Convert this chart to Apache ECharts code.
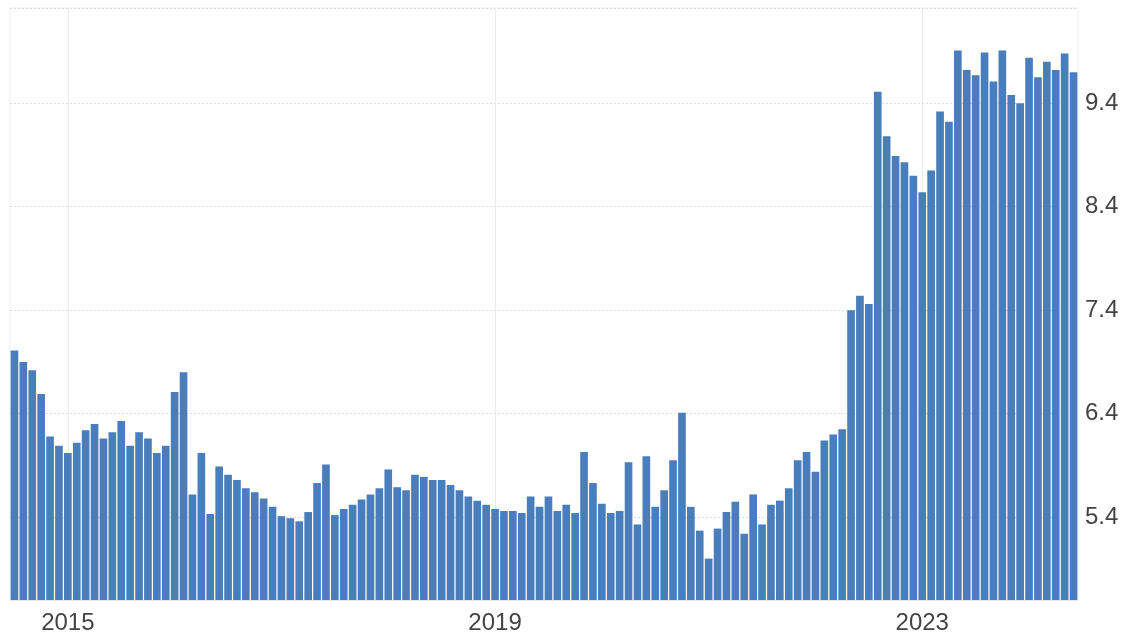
<!DOCTYPE html>
<html>
<head>
<meta charset="utf-8">
<script src="https://cdn.jsdelivr.net/npm/echarts@6/dist/echarts.min.js"></script>
<style>
html,body{margin:0;padding:0;background:#fff;}
#c{width:1124px;height:635px;}
</style>
</head>
<body>
<div id="c"></div>
<script>
// Monthly categories, Jul 2014 .. Jun 2024
const categories = [
'2014-07','2014-08','2014-09','2014-10','2014-11','2014-12',
'2015-01','2015-02','2015-03','2015-04','2015-05','2015-06','2015-07','2015-08','2015-09','2015-10','2015-11','2015-12',
'2016-01','2016-02','2016-03','2016-04','2016-05','2016-06','2016-07','2016-08','2016-09','2016-10','2016-11','2016-12',
'2017-01','2017-02','2017-03','2017-04','2017-05','2017-06','2017-07','2017-08','2017-09','2017-10','2017-11','2017-12',
'2018-01','2018-02','2018-03','2018-04','2018-05','2018-06','2018-07','2018-08','2018-09','2018-10','2018-11','2018-12',
'2019-01','2019-02','2019-03','2019-04','2019-05','2019-06','2019-07','2019-08','2019-09','2019-10','2019-11','2019-12',
'2020-01','2020-02','2020-03','2020-04','2020-05','2020-06','2020-07','2020-08','2020-09','2020-10','2020-11','2020-12',
'2021-01','2021-02','2021-03','2021-04','2021-05','2021-06','2021-07','2021-08','2021-09','2021-10','2021-11','2021-12',
'2022-01','2022-02','2022-03','2022-04','2022-05','2022-06','2022-07','2022-08','2022-09','2022-10','2022-11','2022-12',
'2023-01','2023-02','2023-03','2023-04','2023-05','2023-06','2023-07','2023-08','2023-09','2023-10','2023-11','2023-12',
'2024-01','2024-02','2024-03','2024-04','2024-05','2024-06'
];

const values = [
7.01,6.90,6.82,6.59,6.18,6.09,
6.02,6.12,6.24,6.30,6.16,6.22,6.33,6.09,6.22,6.16,6.02,6.09,
6.61,6.80,5.62,6.02,5.43,5.89,5.81,5.76,5.68,5.64,5.58,5.50,
5.41,5.39,5.36,5.45,5.73,5.91,5.42,5.48,5.52,5.57,5.62,5.68,
5.86,5.69,5.66,5.81,5.79,5.76,5.76,5.71,5.66,5.60,5.56,5.52,
5.48,5.46,5.46,5.44,5.60,5.50,5.60,5.46,5.52,5.44,6.03,5.73,
5.53,5.44,5.46,5.93,5.33,5.99,5.50,5.66,5.95,6.41,5.50,5.27,
5.00,5.29,5.45,5.55,5.24,5.62,5.33,5.52,5.56,5.68,5.95,6.03,
5.84,6.14,6.20,6.25,7.40,7.54,7.46,9.51,9.08,8.89,8.83,8.70,
8.54,8.75,9.32,9.22,9.91,9.72,9.67,9.89,9.61,9.91,9.48,9.40,
9.84,9.65,9.80,9.72,9.88,9.70
];

const xTickCategories = ['2015-01','2019-01','2023-01'];
const xTickLabels = ['2015','2019','2023'];
const yTickValues = [5.4,6.4,7.4,8.4,9.4];
const yMin = 4.6;
const yMax = 10.32;

const chart = echarts.init(document.getElementById('c'), null, {renderer:'canvas'});

const gridLines = yTickValues.map(v => ({yAxis: v, lineStyle:{type:[2,2], color:'#dcdcdc', width:1}}))
  .concat([{yAxis: yMax, lineStyle:{type:[2,2], color:'#dcdcdc', width:1}}])
  .concat(xTickCategories.map(c => ({xAxis: c, lineStyle:{type:'solid', color:'#ebebeb', width:1}})));

chart.setOption({
  animation:false,
  backgroundColor:'#ffffff',
  grid:{left:10, right:46, top:8, bottom:35, show:true, borderColor:'#efefef', borderWidth:1, backgroundColor:'transparent'},
  xAxis:{
    type:'category',
    data:categories,
    boundaryGap:true,
    axisLine:{show:true, lineStyle:{color:'#e8e8e8'}},
    axisTick:{show:false},
    splitLine:{show:false},
    axisLabel:{
      interval:(i, v) => xTickCategories.indexOf(v) >= 0,
      formatter:(v) => { const k = xTickCategories.indexOf(v); return k >= 0 ? xTickLabels[k] : ''; },
      color:'#444444', fontSize:24, fontFamily:'Liberation Sans, Arial, sans-serif', margin:11
    }
  },
  yAxis:{
    type:'value',
    position:'right',
    min:yMin,
    max:yMax,
    interval:0.2,
    axisLine:{show:false},
    axisTick:{show:false},
    splitLine:{show:false},
    axisLabel:{
      formatter:(v) => {
        const t = Math.round(v*10);
        if (Math.abs(v*10 - t) > 0.01) return '';
        return yTickValues.some(y => Math.abs(y - v) < 1e-6) ? v.toFixed(1) : '';
      },
      color:'#444444', fontSize:24, fontFamily:'Liberation Sans, Arial, sans-serif', margin:7
    }
  },
  series:[{
    type:'bar',
    data:values,
    barCategoryGap:'14%',
    itemStyle:{color:'#4a7dbb'},
    markLine:{
      silent:true,
      z:1,
      symbol:['none','none'],
      label:{show:false},
      data:gridLines
    }
  }]
});
</script>
</body>
</html>
